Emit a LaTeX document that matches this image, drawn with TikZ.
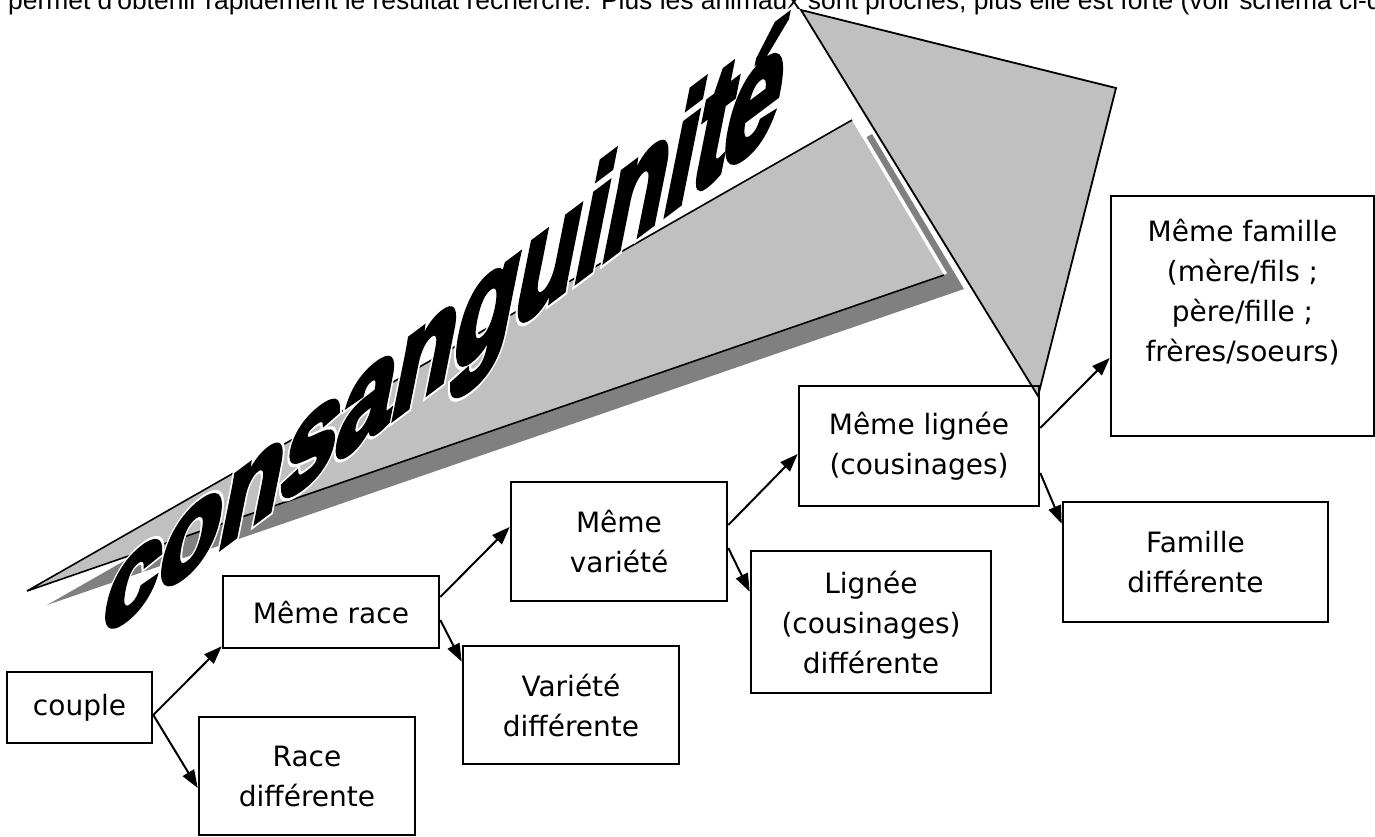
\documentclass[tikz,border=0pt]{standalone}
\usepackage{fontspec}
\setmainfont{DejaVu Sans}
\newfontfamily\hdrfont{Liberation Sans}
\newfontfamily\waBlack[FakeBold=4.5]{Liberation Sans Bold}
\newfontfamily\waWhite[FakeBold=8.5]{Liberation Sans Bold}
\usetikzlibrary{arrows.meta}
\definecolor{lgrey}{RGB}{192,192,192}
\definecolor{dgrey}{RGB}{128,128,128}
\tikzset{
  box/.style={draw=black, line width=2.6pt, inner sep=0pt, align=center,
              font=\fontsize{28}{40}\selectfont},
  link/.style={line width=2pt, -{Triangle[length=18pt,width=13pt]}},
  wordart/.style={transform shape, anchor=base west, inner sep=0pt},
}
% letter / advance offset / vertical stretch
\newcommand\walist{c/0/1.30, o/55.6/1.34, n/116.7/1.38, s/177.8/1.43, a/233.4/1.47, n/289.0/1.51, g/350.1/1.55, u/411.2/1.60, i/472.3/1.64, n/500.1/1.66, i/561.2/1.71, t/589.0/1.80, é/619.0/1.72}
\begin{document}
\begin{tikzpicture}[x=1pt,y=-1pt]
\useasboundingbox (0,0) rectangle (1375,836);
\clip (0,0) rectangle (1375,836);

% cut header line
\node[anchor=base west, inner sep=0pt, font=\hdrfont\fontsize{26.4}{30}\selectfont] (hdr) at (8,9)
  {permet d'obtenir rapidement le résultat recherché. Plus les animaux sont proches, plus elle est forte (voir schéma ci-dessous)};

% big arrow: shadow, shaft, head
\fill[dgrey] (47,605) -- (872,134) -- (964,289) -- cycle;
\fill[lgrey] (27,591) -- (852,120) -- (944,275) -- cycle;
\draw[white, line width=3.5pt] (853.5,119.1) -- (945.5,274.1);
\draw[black, line width=1.6pt, line join=miter] (852,120) -- (27,591) -- (944,275);
\filldraw[fill=lgrey, draw=black, line width=1.8pt, line join=miter] (801,10) -- (1116,88) -- (1038,396) -- cycle;

% word art: white halo first, then black letters
\foreach \ch/\off/\vs [count=\k] in \walist {
  \pgfmathsetmacro\lean{0.2*\vs}
  \pgfmathsetmacro\px{98+\off}
  \pgfmathsetmacro\py{640-0.75*\off}
  \begin{scope}[shift={(\px,\py)}, cm={1,0.75,\lean,\vs,(0,0)}]
    \node[wordart, text=white, font=\waWhite\fontsize{100}{100}\selectfont] (halo\k) at (0,0) {\ch};
  \end{scope}
}
\foreach \ch/\off/\vs [count=\k] in \walist {
  \pgfmathsetmacro\lean{0.2*\vs}
  \pgfmathsetmacro\px{98+\off}
  \pgfmathsetmacro\py{640-0.75*\off}
  \begin{scope}[shift={(\px,\py)}, cm={1,0.75,\lean,\vs,(0,0)}]
    \node[wordart, text=black, font=\waBlack\fontsize{100}{100}\selectfont] (letter\k) at (0,0) {\ch};
  \end{scope}
}

% boxes
\node[box, minimum width=145pt, minimum height=71pt] (couple) at (79.5,707.5) {couple};
\node[box, minimum width=216pt, minimum height=72pt] (mrace) at (331,612) {Même race};
\node[box, minimum width=216pt, minimum height=118pt] (rdiff) at (307,776) {Race\\différente};
\node[box, minimum width=216pt, minimum height=119pt] (mvar) at (619,541.5) {Même\\variété};
\node[box, minimum width=216pt, minimum height=118pt] (vdiff) at (571,705) {Variété\\différente};
\node[box, minimum width=240pt, minimum height=142pt] (ldiff) at (871,622) {Lignée\\(cousinages)\\différente};
\node[box, minimum width=240pt, minimum height=120pt] (mlig) at (919,446) {Même lignée\\(cousinages)};
\node[box, minimum width=265pt, minimum height=120pt] (fdiff) at (1195.5,562) {Famille\\différente};
\node[box, minimum width=263pt, minimum height=240pt] (mfam) at (1242.5,316) {Même famille\\(mère/fils ;\\père/fille ;\\frères/soeurs)\\\strut};

% connectors
\draw[link] ([yshift=-7.5pt]couple.east) -- ([yshift=3pt]mrace.south west);
\draw[link] ([yshift=-7.5pt]couple.east) -- ([yshift=-12pt]rdiff.west);
\draw[link] ([yshift=15pt]mrace.east) -- ([yshift=14.5pt]mvar.west);
\draw[link] ([yshift=-8pt]mrace.east) -- ([yshift=-17pt]vdiff.north west);
\draw[link] ([yshift=16.5pt]mvar.east) -- ([yshift=-8pt]mlig.west);
\draw[link] ([yshift=-6.5pt]mvar.east) -- ([yshift=-42pt]ldiff.north west);
\draw[link] ([yshift=18pt]mlig.east) -- ([yshift=-42pt]mfam.west);
\draw[link] ([yshift=-27pt]mlig.east) -- ([yshift=-23pt]fdiff.north west);
\end{tikzpicture}
\end{document}
